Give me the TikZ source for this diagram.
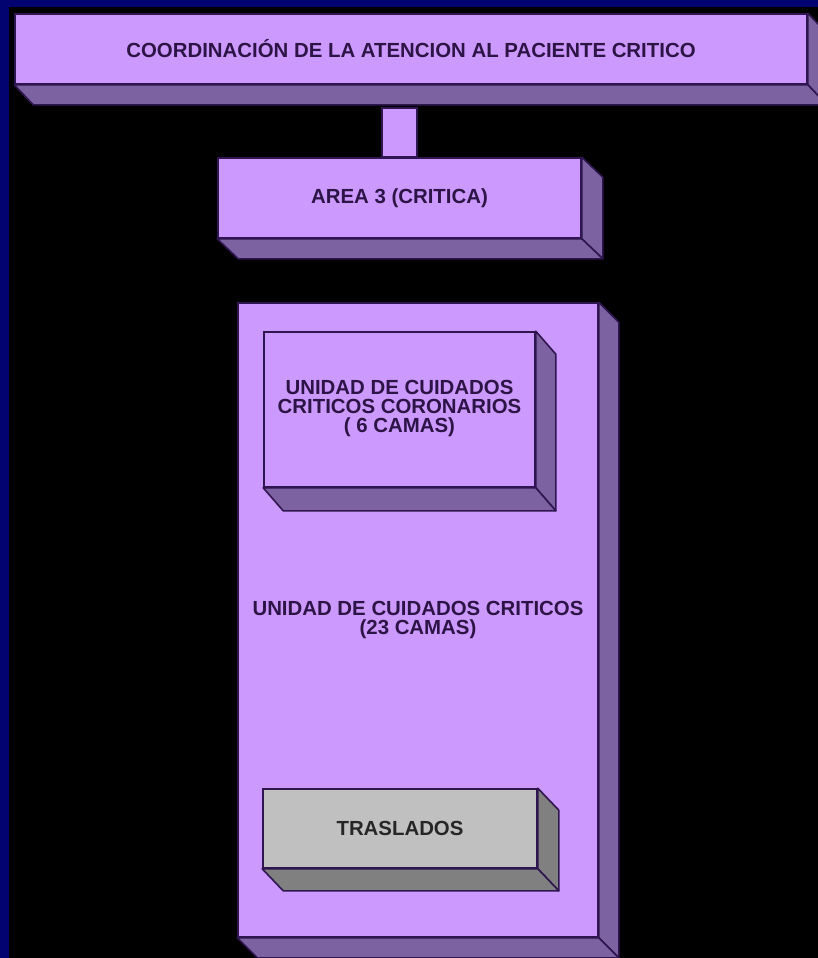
\documentclass[tikz,border=0pt]{standalone}
\usepackage{fontspec}
\setmainfont{Liberation Sans}
\usetikzlibrary{calc}
\definecolor{marino}{RGB}{2,2,112}
\definecolor{lila}{RGB}{204,153,255}
\definecolor{lilaosc}{RGB}{124,98,160}
\definecolor{borde}{RGB}{48,22,80}
\definecolor{gris}{RGB}{192,192,192}
\definecolor{grisosc}{RGB}{128,128,128}
\definecolor{tinta}{RGB}{45,20,70}

\tikzset{
  caja/.style={draw=borde, fill=lila, line width=1.6pt, text=tinta, align=center,
    inner sep=0pt, font=\bfseries\fontsize{20.4}{19}\selectfont},
  cajagris/.style={caja, fill=gris, text=black!85},
  cara/.style={draw=borde, line width=1.6pt, line join=round},
}
% caras laterales de una caja 3D: [color]{nodo}{dx}{dy}
\newcommand{\caras}[4][lilaosc]{%
  \draw[cara,fill=#1] (#2.north east) -- ++(#3,#4) -- ($(#2.south east)+(#3,#4)$) -- (#2.south east) -- cycle;
  \draw[cara,fill=#1] (#2.south west) -- ++(#3,#4) -- ($(#2.south east)+(#3,#4)$) -- (#2.south east) -- cycle;}

\begin{document}
\begin{tikzpicture}[x=1pt,y=-1pt]
\useasboundingbox (0,0) rectangle (818,958);
\fill[black] (0,0) rectangle (818,958);
\fill[marino] (0,0) rectangle (818,7);
\fill[marino] (0,0) rectangle (9,958);

\node[caja, minimum width=792pt, minimum height=70pt] (coord) at (411,49)
  {COORDINACIÓN DE LA ATENCION AL PACIENTE CRITICO};
\caras{coord}{19}{20}

\node[caja, minimum width=363pt, minimum height=80pt] (area) at (399.5,198) {AREA 3 (CRITICA)};
\caras{area}{21}{20}

% enlace entre las dos primeras cajas
\draw[caja] ($(area.north)+(-17.5,0)$) rectangle ($(area.north |- coord.south)+(17.5,23)$);

\node[caja, minimum width=360pt, minimum height=634pt, text depth=5pt] (ucc) at (418,620)
  {UNIDAD DE CUIDADOS CRITICOS\\(23 CAMAS)};
\caras{ucc}{20}{20}

\node[caja, minimum width=271pt, minimum height=155pt, text depth=7pt] (coro) at (399.5,409.5)
  {UNIDAD DE CUIDADOS\\CRITICOS CORONARIOS\\( 6 CAMAS)};
\caras{coro}{20}{23}

\node[cajagris, minimum width=274pt, minimum height=79pt] (tras) at (400,828.5) {TRASLADOS};
\caras[grisosc]{tras}{21}{22}
\end{tikzpicture}
\end{document}
